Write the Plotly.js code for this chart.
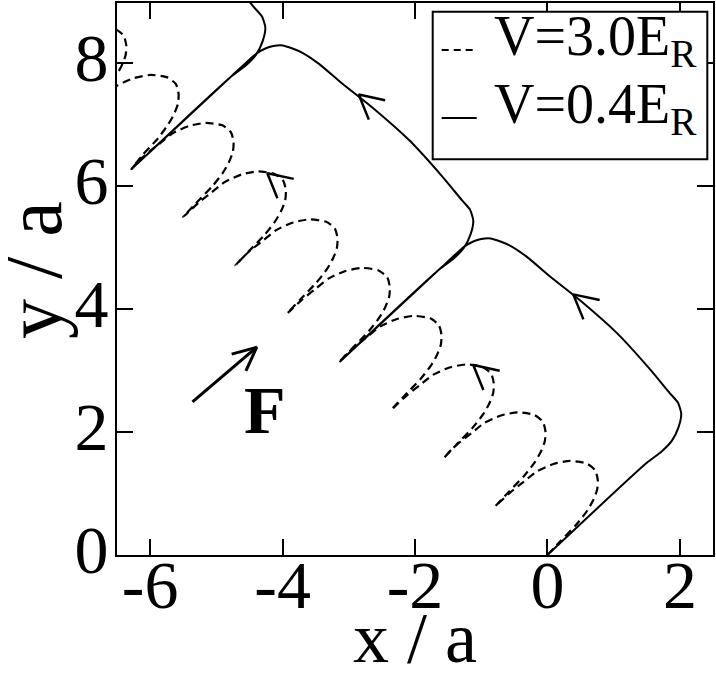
<!DOCTYPE html>
<html><head><meta charset="utf-8">
<script src="https://cdn.plot.ly/plotly-3.0.1.min.js"></script>
<style>html,body{margin:0;padding:0;background:#fff;} #chart{width:716px;height:674px;}</style>
</head><body><div id="chart"></div>
<script>
// V = 0.4 E_R trajectory (solid)
const solidX = [0, 1.50, 1.72, 1.88, 1.98, 2.02, 1.97, 1.85, 1.55, 1.05, 0.54, 0.04, -0.31, -0.56, -0.71, -0.86, -1.00, -1.12, -1.25, -1.37, -1.62, -3.14,
  -1.64, -1.42, -1.26, -1.16, -1.12, -1.17, -1.29, -1.59, -2.09, -2.60, -3.10, -3.45, -3.70, -3.85, -4.00, -4.14, -4.26, -4.39, -4.51, -4.76, -6.28,
  -4.78, -4.56, -4.40, -4.30, -4.26, -4.31, -4.43, -4.73];
const solidY = [0, 1.50, 1.68, 1.86, 2.08, 2.30, 2.48, 2.63, 3.02, 3.61, 4.10, 4.53, 4.85, 5.03, 5.10, 5.15, 5.14, 5.10, 5.02, 4.91, 4.66, 3.14,
  4.64, 4.82, 5.00, 5.22, 5.44, 5.62, 5.77, 6.16, 6.75, 7.24, 7.67, 7.99, 8.17, 8.24, 8.29, 8.28, 8.24, 8.16, 8.05, 7.80, 6.28,
  7.78, 7.96, 8.14, 8.36, 8.58, 8.76, 8.91, 9.30];

// V = 3.0 E_R trajectory (dashed)
const dashX = [
  0, 0.19, 0.44, 0.60, 0.69, 0.75, 0.76, 0.72, 0.59, 0.34, 0.09, -0.16, -0.36, -0.56, -0.71,
  -0.79, -0.60, -0.35, -0.19, -0.10, -0.04, -0.03, -0.07, -0.20, -0.45, -0.70, -0.95, -1.15, -1.35, -1.50,
  -1.57, -1.38, -1.13, -0.97, -0.88, -0.82, -0.81, -0.85, -0.98, -1.23, -1.48, -1.73, -1.93, -2.13, -2.28,
  -2.36, -2.17, -1.92, -1.76, -1.67, -1.61, -1.60, -1.64, -1.77, -2.02, -2.27, -2.52, -2.72, -2.92, -3.07,
  -3.14, -2.95, -2.70, -2.54, -2.45, -2.39, -2.38, -2.42, -2.55, -2.80, -3.05, -3.30, -3.50, -3.70, -3.85,
  -3.93, -3.74, -3.49, -3.33, -3.24, -3.18, -3.17, -3.21, -3.34, -3.59, -3.84, -4.09, -4.29, -4.49, -4.64,
  -4.71, -4.52, -4.27, -4.11, -4.02, -3.96, -3.95, -3.99, -4.12, -4.37, -4.62, -4.87, -5.07, -5.27, -5.42,
  -5.50, -5.31, -5.06, -4.90, -4.81, -4.75, -4.74, -4.78, -4.91, -5.16, -5.41, -5.66, -5.86, -6.06, -6.21,
  -6.28, -6.12, -5.88, -5.73, -5.64, -5.58, -5.57, -5.61, -5.74, -5.99, -6.24, -6.49, -6.69, -6.89, -7.04,
  -7.07, -6.92, -6.68, -6.52, -6.43, -6.37, -6.36, -6.40, -6.53, -6.78];
const dashY = [
  0, 0.22, 0.50, 0.72, 0.89, 1.06, 1.22, 1.38, 1.49, 1.53, 1.48, 1.36, 1.19, 1.02, 0.87,
  0.79, 1.01, 1.29, 1.51, 1.68, 1.85, 2.01, 2.17, 2.28, 2.32, 2.27, 2.15, 1.98, 1.81, 1.66,
  1.57, 1.79, 2.07, 2.29, 2.46, 2.63, 2.79, 2.95, 3.06, 3.10, 3.05, 2.93, 2.76, 2.59, 2.44,
  2.36, 2.58, 2.86, 3.08, 3.25, 3.42, 3.58, 3.74, 3.85, 3.89, 3.84, 3.72, 3.55, 3.38, 3.23,
  3.14, 3.36, 3.64, 3.86, 4.03, 4.20, 4.36, 4.52, 4.63, 4.67, 4.62, 4.50, 4.33, 4.16, 4.01,
  3.93, 4.15, 4.43, 4.65, 4.82, 4.99, 5.15, 5.31, 5.42, 5.46, 5.41, 5.29, 5.12, 4.95, 4.80,
  4.71, 4.93, 5.21, 5.43, 5.60, 5.77, 5.93, 6.09, 6.20, 6.24, 6.19, 6.07, 5.90, 5.73, 5.58,
  5.50, 5.72, 6.00, 6.22, 6.39, 6.56, 6.72, 6.88, 6.99, 7.03, 6.98, 6.86, 6.69, 6.52, 6.37,
  6.28, 6.50, 6.78, 7.00, 7.17, 7.34, 7.50, 7.66, 7.77, 7.81, 7.76, 7.64, 7.47, 7.30, 7.15,
  7.07, 7.29, 7.57, 7.79, 7.96, 8.13, 8.29, 8.45, 8.56, 8.60];

// direction arrowheads on the trajectories (tip positions)
const arrowTipX = [0.39, -2.85, -1.12, -4.23];
const arrowTipY = [4.24, 7.49, 3.09, 6.21];

// force arrow (tail, head) and its label
const forceX = [-5.36, -4.39];
const forceY = [2.49, 3.38];
const forceLabel = 'F';
const forceLabelPos = [-4.27, 2.36];

const seriesNames = ['V=3.0E<sub>R</sub>', 'V=0.4E<sub>R</sub>'];
const seriesDash = ['8px,5px', 'solid'];
const xTickVals = [-6, -4, -2, 0, 2];
const xTickText = ['-6', '-4', '-2', '0', '2'];
const yTickVals = [0, 2, 4, 6, 8];
const yTickText = ['0', '2', '4', '6', '8'];
const xTitle = 'x / a';
const yTitle = 'y / a';

// ---- layout geometry ----
const W = 716, H = 674;
const M = {l: 117, r: 3, t: 3, b: 119};
const xRange = [-6.5, 2.5], yRange = [0, 8.98];
const plotW = W - M.l - M.r, plotH = H - M.t - M.b;
const pxX = plotW / (xRange[1] - xRange[0]);
const pxY = plotH / (yRange[1] - yRange[0]);
const FONT = 'Liberation Serif, Times New Roman, serif';
// page-pixel -> paper coords helpers for the hand-built legend box and titles
const pX = px => (px - M.l) / plotW;
const pY = py => (M.t + plotH - py) / plotH;

function chevron(tx, ty, backDeg, half, len, acc) {
  const a1 = (backDeg - half) * Math.PI / 180, a2 = (backDeg + half) * Math.PI / 180;
  acc.x.push(tx + len * Math.cos(a1) / pxX, tx, tx + len * Math.cos(a2) / pxX, null);
  acc.y.push(ty - len * Math.sin(a1) / pxY, ty, ty - len * Math.sin(a2) / pxY, null);
}

const heads = {x: [], y: []};
for (let i = 0; i < arrowTipX.length; i++) chevron(arrowTipX[i], arrowTipY[i], 40, 28, 27, heads);

const fdx = (forceX[1] - forceX[0]) * pxX, fdy = -(forceY[1] - forceY[0]) * pxY;
const fBack = Math.atan2(fdy, fdx) * 180 / Math.PI + 180;
const fHead = {x: [], y: []};
chevron(forceX[1], forceY[1], fBack, 25, 26, fHead);

const traces = [
  {x: dashX, y: dashY, type: 'scatter', mode: 'lines', name: seriesNames[0], showlegend: false,
   line: {color: '#000', width: 2.2, dash: seriesDash[0], shape: 'spline', smoothing: 0.6}},
  {x: solidX, y: solidY, type: 'scatter', mode: 'lines', name: seriesNames[1], showlegend: false,
   line: {color: '#000', width: 2, dash: seriesDash[1], shape: 'spline', smoothing: 0.6}},
  {x: heads.x, y: heads.y, type: 'scatter', mode: 'lines', showlegend: false, hoverinfo: 'skip',
   line: {color: '#000', width: 2.5}},
  {x: forceX, y: forceY, type: 'scatter', mode: 'lines', showlegend: false, hoverinfo: 'skip',
   line: {color: '#000', width: 3}},
  {x: fHead.x, y: fHead.y, type: 'scatter', mode: 'lines', showlegend: false, hoverinfo: 'skip',
   line: {color: '#000', width: 3}}
];

const axisCommon = {
  showgrid: false, zeroline: false, showline: true, linecolor: '#000', linewidth: 2,
  mirror: 'ticks', ticks: 'inside', ticklen: 16, tickwidth: 2, tickcolor: '#000',
  tickmode: 'array', tickfont: {family: FONT, size: 68, color: '#000'}
};

// legend box (drawn by hand so its size matches the reference)
const legBox = {x0: 432.7, x1: 707.3, y0: 11.7, y1: 159.3};
const legRows = [{lineY: 50, textY: 40}, {lineY: 118, textY: 108}];
const shapes = [
  {type: 'rect', xref: 'paper', yref: 'paper', x0: pX(legBox.x0), x1: pX(legBox.x1), y0: pY(legBox.y1), y1: pY(legBox.y0),
   line: {color: '#000', width: 2}, fillcolor: '#fff', layer: 'above'}
];
const annotations = [
  {xref: 'paper', yref: 'paper', x: 0.5, y: pY(638), xanchor: 'center', yanchor: 'middle',
   text: xTitle, showarrow: false, font: {family: FONT, size: 72, color: '#000'}},
  {xref: 'paper', yref: 'paper', x: pX(34), y: pY(270), xanchor: 'center', yanchor: 'middle',
   text: yTitle, textangle: -90, showarrow: false, font: {family: FONT, size: 80, color: '#000'}},
  {xref: 'x', yref: 'y', x: forceLabelPos[0], y: forceLabelPos[1], xanchor: 'center', yanchor: 'middle',
   text: '<b>' + forceLabel + '</b>', showarrow: false, font: {family: FONT, size: 68, color: '#000'}}
];
legRows.forEach((row, i) => {
  shapes.push({type: 'line', xref: 'paper', yref: 'paper', x0: pX(441.7), x1: pX(476.7), y0: pY(row.lineY), y1: pY(row.lineY),
    line: {color: '#000', width: 1.8, dash: i === 0 ? '7px,5px' : 'solid'}, layer: 'above'});
  annotations.push({xref: 'paper', yref: 'paper', x: pX(492), y: pY(row.textY), xanchor: 'left', yanchor: 'middle',
    text: seriesNames[i], showarrow: false, font: {family: FONT, size: 56, color: '#000'}});
});

const layout = {
  width: W, height: H, margin: M,
  paper_bgcolor: '#fff', plot_bgcolor: '#fff',
  xaxis: Object.assign({}, axisCommon, {range: xRange, tickvals: xTickVals, ticktext: xTickText, ticklabelstandoff: -31}),
  yaxis: Object.assign({}, axisCommon, {range: yRange, tickvals: yTickVals, ticktext: yTickText, ticklabelstandoff: -7, ticklabelshift: -6}),
  showlegend: false,
  shapes: shapes,
  annotations: annotations
};

Plotly.newPlot('chart', traces, layout, {displayModeBar: false, staticPlot: true});
</script>
</body></html>
